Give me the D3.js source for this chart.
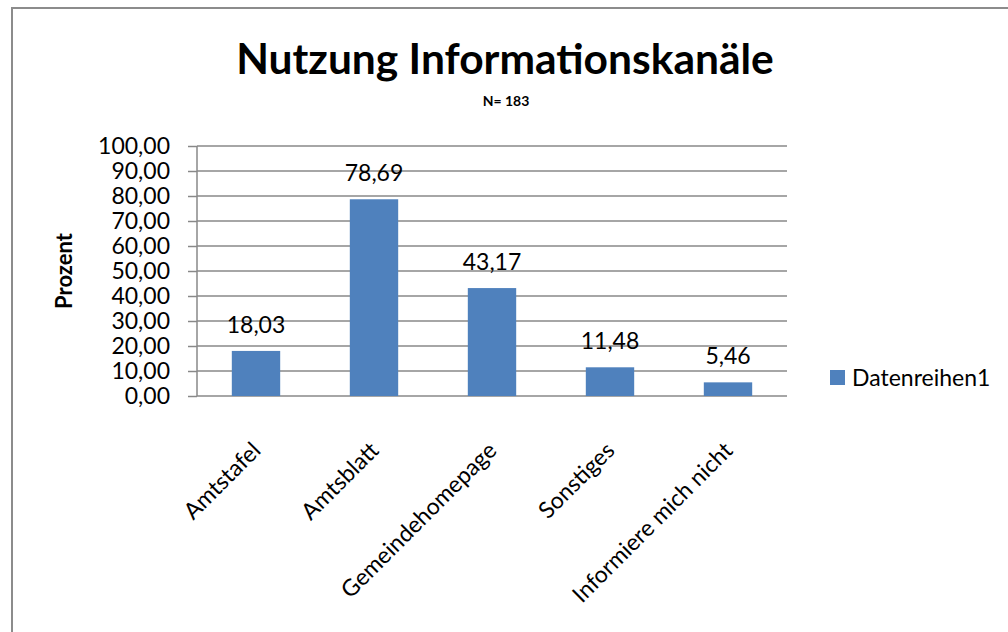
<!DOCTYPE html>
<html>
<head>
<meta charset="utf-8">
<script src="https://cdn.jsdelivr.net/npm/d3@7"></script>
<style>
    body { margin: 0; background: #fff; }
    svg { display: block; font-family: Lato, "Open Sans", sans-serif; }
</style>
</head>
<body>
<div id="chart"></div>
<script>
// chart values
const categories = ["Amtstafel", "Amtsblatt", "Gemeindehomepage", "Sonstiges", "Informiere mich nicht"];
const percentages = [18.03, 78.69, 43.17, 11.48, 5.46];
const yTicks = [0, 10, 20, 30, 40, 50, 60, 70, 80, 90, 100];
const seriesName = "Datenreihen1";
const chartTitle = "Nutzung Informationskanäle";
const chartSubtitle = "N= 183";
const yTitle = "Prozent";

const width = 1008, height = 632;
const barColor = "#4F81BD";
const lineColor = "#888888";

// works on 1008 * 632 only
const plot = { left: 197, right: 787, top: 146, bottom: 396 };

// german number format, comma as decimal sign
const deLocale = d3.formatLocale({ decimal: ",", thousands: ".", grouping: [3], currency: ["", " €"] });
const fmt = deLocale.format(".2f");

var svg = d3.select("#chart")
    .append("svg")
    .attr("width", width)
    .attr("height", height);

svg.append("rect")
    .attr("width", width)
    .attr("height", height)
    .attr("fill", "#fff");

// outer chart frame, runs off the right and bottom edges
svg.append("rect")
    .attr("x", 12)
    .attr("y", 8)
    .attr("width", width + 20)
    .attr("height", height + 20)
    .attr("fill", "none")
    .attr("stroke", "#8c8c8c")
    .attr("stroke-width", 2);

const x = d3.scaleBand()
    .domain(categories)
    .range([plot.left, plot.right])
    .paddingInner(0.59)
    .paddingOuter(0.295);

const y = d3.scaleLinear()
    .domain([0, 100])
    .range([plot.bottom, plot.top]);

// gridlines
svg.append("g")
    .selectAll("line")
    .data(yTicks)
    .enter()
    .append("line")
    .attr("x1", plot.left)
    .attr("x2", plot.right)
    .attr("y1", d => y(d))
    .attr("y2", d => y(d))
    .attr("stroke", lineColor)
    .attr("stroke-width", 1.5);

// y axis with outward ticks
var yAxis = svg.append("g")
    .attr("transform", `translate(${plot.left},0)`)
    .call(d3.axisLeft(y).tickValues(yTicks).tickSize(9).tickPadding(18).tickFormat(fmt));

yAxis.select(".domain")
    .attr("stroke", lineColor)
    .attr("stroke-width", 1.5)
    .attr("d", `M0,${plot.top}V${plot.bottom}`);
yAxis.selectAll(".tick line")
    .attr("stroke", lineColor)
    .attr("stroke-width", 1.5);
yAxis.selectAll(".tick text")
    .attr("fill", "#000")
    .style("font-size", "23px")
    .style("font-family", "Lato");

// bars
svg.append("g")
    .selectAll("rect")
    .data(percentages)
    .enter()
    .append("rect")
    .attr("x", (d, i) => x(categories[i]))
    .attr("y", d => y(d))
    .attr("width", x.bandwidth())
    .attr("height", d => y(0) - y(d))
    .attr("fill", barColor);

// value labels above bars
svg.append("g")
    .selectAll("text")
    .data(percentages)
    .enter()
    .append("text")
    .attr("x", (d, i) => x(categories[i]) + x.bandwidth() / 2)
    .attr("y", d => y(d) - 18)
    .attr("text-anchor", "middle")
    .style("font-size", "23px")
    .text(d => fmt(d));

// rotated category labels
svg.append("g")
    .selectAll("text")
    .data(categories)
    .enter()
    .append("text")
    .attr("transform", d => `translate(${x(d) + x.bandwidth() / 2 + 6},${plot.bottom + 56}) rotate(-45)`)
    .attr("text-anchor", "end")
    .style("font-size", "23px")
    .text(d => d);

// titles
svg.append("text")
    .attr("x", 505)
    .attr("y", 74)
    .attr("text-anchor", "middle")
    .style("font-size", "42.5px")
    .style("font-weight", "bold")
    .text(chartTitle);

svg.append("text")
    .attr("x", 506)
    .attr("y", 106)
    .attr("text-anchor", "middle")
    .style("font-size", "14px")
    .style("font-weight", "bold")
    .text(chartSubtitle);

svg.append("text")
    .attr("transform", `translate(72,${(plot.top + plot.bottom) / 2}) rotate(-90)`)
    .attr("text-anchor", "middle")
    .style("font-size", "22px")
    .style("font-weight", "bold")
    .text(yTitle);

// legend
var legend = svg.append("g")
    .attr("transform", "translate(830,370)");

legend.append("rect")
    .attr("width", 15)
    .attr("height", 15)
    .attr("fill", barColor);

legend.append("text")
    .attr("x", 22)
    .attr("y", 16)
    .style("font-size", "23px")
    .text(seriesName);
</script>
</body>
</html>
